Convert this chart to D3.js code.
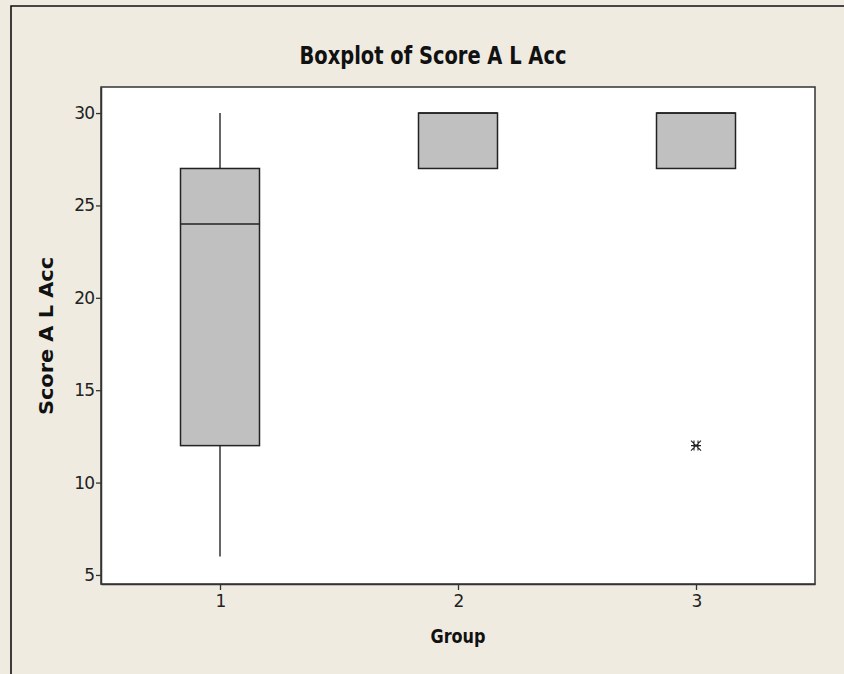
<!DOCTYPE html>
<html><head><meta charset="utf-8">
<script src="https://cdn.jsdelivr.net/npm/d3@7"></script>
<style>body{margin:0;background:#fff;} svg{display:block;}</style>
</head><body>
<svg id="c" width="844" height="674"></svg>
<script>
const groups = ["1","2","3"];
const whiskerLow = [6, 27, 27];
const q1 = [12, 27, 27];
const median = [24, 30, 30];
const q3 = [27, 30, 30];
const whiskerHigh = [30, 30, 30];
const outliers = [[], [], [12]];
const yTicks = [5, 10, 15, 20, 25, 30];

const svg = d3.select("#c");
const W = 844, H = 674;
const m = {left: 101, top: 87, right: 815, bottom: 584};

svg.append("rect").attr("width", W).attr("height", H).attr("fill", "#efebe1");
svg.append("path").attr("d", `M11,${H} L11,6 L${W},6`).attr("fill","none").attr("stroke","#111").attr("stroke-width",1.6);

const x = d3.scaleLinear().domain([0.5, 3.5]).range([m.left, m.right]);
const y = d3.scaleLinear().domain([4.51, 31.41]).range([m.bottom, m.top]);

svg.append("rect").attr("x", m.left).attr("y", m.top).attr("width", m.right - m.left).attr("height", m.bottom - m.top)
  .attr("fill", "#fff").attr("stroke", "#333").attr("stroke-width", 1.5);

const fontTick = "'DejaVu Sans', Verdana, sans-serif";

const yAxis = d3.axisLeft(y).tickValues(yTicks).tickSize(5).tickSizeOuter(0).tickPadding(2);
const gy = svg.append("g").attr("transform", `translate(${m.left},0)`).call(yAxis);
const xAxis = d3.axisBottom(x).tickValues([1,2,3]).tickFormat((d,i)=>groups[i]).tickSize(6).tickSizeOuter(0).tickPadding(5);
const gx = svg.append("g").attr("transform", `translate(0,${m.bottom})`).call(xAxis);
[gx, gy].forEach(g => {
  g.select(".domain").attr("stroke", "#333").attr("stroke-width", 1.5);
  g.selectAll(".tick line").attr("stroke", "#333").attr("stroke-width", 1.3);
  g.selectAll(".tick text").attr("fill", "#222").style("font-family", fontTick).style("font-size", "17px").style("letter-spacing", "-1px");
});

const hw = 39.5;
const bx = svg.append("g");
groups.forEach((gName, i) => {
  const cx = x(i + 1);
  if (whiskerHigh[i] > q3[i]) bx.append("line").attr("x1", cx).attr("x2", cx).attr("y1", y(q3[i])).attr("y2", y(whiskerHigh[i])).attr("stroke", "#333").attr("stroke-width", 1.5);
  if (whiskerLow[i] < q1[i]) bx.append("line").attr("x1", cx).attr("x2", cx).attr("y1", y(q1[i])).attr("y2", y(whiskerLow[i])).attr("stroke", "#333").attr("stroke-width", 1.5);
  bx.append("rect").attr("x", cx - hw).attr("y", y(q3[i])).attr("width", 2 * hw).attr("height", y(q1[i]) - y(q3[i]))
    .attr("fill", "#c0c0c0").attr("stroke", "#222").attr("stroke-width", 1.5);
  bx.append("line").attr("x1", cx - hw).attr("x2", cx + hw).attr("y1", y(median[i])).attr("y2", y(median[i])).attr("stroke", "#222").attr("stroke-width", 1.5);
  outliers[i].forEach(v => {
    const r = 5;
    bx.append("path").attr("transform", `translate(${cx},${y(v)})`)
      .attr("d", `M${-r},0H${r}M-2,${-r}V${r}M2,${-r}V${r}M${-r},${-r}L${r},${r}M${r},${-r}L${-r},${r}`)
      .attr("fill", "none").attr("stroke", "#222").attr("stroke-width", 1.1);
  });
});

const fontBold = "'DejaVu Sans Condensed', 'DejaVu Sans', sans-serif";
svg.append("text").attr("x", 433).attr("y", 64).attr("text-anchor", "middle")
  .attr("textLength", 267).attr("lengthAdjust", "spacingAndGlyphs")
  .style("font-family", fontBold).style("font-weight", "bold").style("font-size", "25px").attr("fill", "#111")
  .text("Boxplot of Score A L Acc");
svg.append("text").attr("transform", "translate(53,336) rotate(-90)").attr("text-anchor", "middle")
  .attr("textLength", 158).attr("lengthAdjust", "spacingAndGlyphs")
  .style("font-family", fontBold).style("font-weight", "bold").style("font-size", "20px").attr("fill", "#111")
  .text("Score A L Acc");
svg.append("text").attr("x", 458).attr("y", 643).attr("text-anchor", "middle")
  .attr("textLength", 55).attr("lengthAdjust", "spacingAndGlyphs")
  .style("font-family", fontBold).style("font-weight", "bold").style("font-size", "19px").attr("fill", "#111")
  .text("Group");
</script>
</body></html>
